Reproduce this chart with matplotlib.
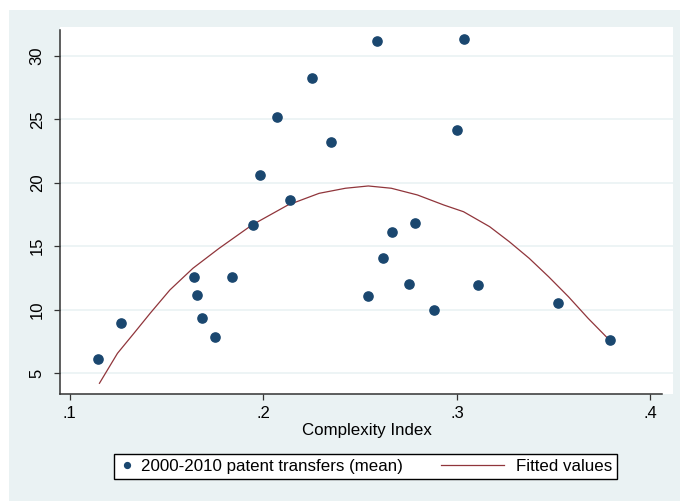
import numpy as np
import matplotlib.pyplot as plt
from matplotlib.patches import Rectangle
from matplotlib.lines import Line2D
from matplotlib.legend_handler import HandlerLine2D
from matplotlib.ticker import FuncFormatter

plt.rcParams['font.family'] = ['Liberation Sans', 'DejaVu Sans']

# points
complexity = [0.1147, 0.1264, 0.1640, 0.1656, 0.1681, 0.1752, 0.1839, 0.1946,
              0.1981, 0.2068, 0.2139, 0.2251, 0.2347, 0.2586, 0.3034, 0.2998,
              0.2662, 0.2784, 0.2617, 0.2540, 0.2754, 0.2881, 0.3110, 0.3522,
              0.3791]
transfers = [6.10, 8.94, 12.57, 11.15, 9.34, 7.84, 12.57, 16.67,
             20.62, 25.19, 18.64, 28.26, 23.22, 31.18, 31.34, 24.16,
             16.12, 16.83, 14.07, 11.07, 12.02, 9.97, 11.94, 10.52,
             7.60]

# courbe ajustee (fitted values), lue point par point
fit_x = [0.1153, 0.1246, 0.1331, 0.1415, 0.1517, 0.1636, 0.1771, 0.1941,
         0.2127, 0.2288, 0.2424, 0.2542, 0.2661, 0.2796, 0.2932, 0.3034,
         0.3169, 0.3271, 0.3373, 0.3474, 0.3576, 0.3678, 0.3779, 0.3791]
fit_y = [4.19, 6.55, 8.13, 9.71, 11.55, 13.26, 14.83, 16.67,
         18.25, 19.17, 19.57, 19.75, 19.57, 19.04, 18.25, 17.72,
         16.54, 15.35, 14.05, 12.59, 11.02, 9.31, 7.74, 7.62]

xticks = [0.1, 0.2, 0.3, 0.4]
yticks = [5, 10, 15, 20, 25, 30]

bg = '#eaf2f3'
navy = '#1a476f'
maroon = '#90353b'


class LongLine(HandlerLine2D):
    # ligne de legende plus longue que la case du marqueur
    def get_xdata(self, legend, xdescent, ydescent, width, height, fontsize):
        xd = np.array([-xdescent - 38.0, width - xdescent - 5.0])
        return xd, xd


fig = plt.figure(figsize=(6.8, 5.01), dpi=100)
fig.patches.append(Rectangle((9 / 680, 0), 1 - 9 / 680, 1 - 10 / 501,
                             transform=fig.transFigure, facecolor=bg,
                             edgecolor='none', zorder=-10))

ax = fig.add_axes([60 / 680, 1 - 394 / 501, 613 / 680, 367 / 501])
ax.set_facecolor('white')
ax.set_xlim(0.1 - 10 / 1967, 0.1 + 613 / 1967)
ax.set_ylim(5 - 21 / 12.68, 5 + (373 - 27) / 12.68)

ax.scatter(complexity, transfers, s=44, color=navy, zorder=3)
ax.plot(fit_x, fit_y, color=maroon, lw=0.9, zorder=2)

ax.set_xticks(xticks)
ax.set_yticks(yticks)
ax.xaxis.set_major_formatter(FuncFormatter(lambda v, p: ('%.1f' % v).lstrip('0')))
ax.tick_params(axis='both', direction='out', length=4, width=0.9,
               color='#333333', labelsize=12)
ax.tick_params(axis='y', pad=7)
ax.tick_params(axis='x', pad=5)
plt.setp(ax.get_yticklabels(), rotation=90, va='center')
ax.yaxis.grid(True, color=bg, lw=1.2)
ax.set_axisbelow(True)

for s in ['top', 'right']:
    ax.spines[s].set_visible(False)
for s in ['left', 'bottom']:
    ax.spines[s].set_color('#333333')
    ax.spines[s].set_linewidth(1.1)
ax.spines['left'].set_bounds(5 - 21 / 12.68, 32.05)
ax.spines['bottom'].set_bounds(0.1 - 10 / 1967, 0.1 + 602 / 1967)

ax.set_xlabel('Complexity Index', fontsize=12.2, labelpad=1)

h_pts = Line2D([], [], ls='none', marker='o', markersize=4.2, color=navy)
h_fit = Line2D([], [], color=maroon, lw=0.9)
leg = fig.legend([h_pts, h_fit],
                 ['2000-2010 patent transfers (mean)', 'Fitted values'],
                 handler_map={h_fit: LongLine()},
                 loc='center', bbox_to_anchor=(365.5 / 680, 1 - 466.5 / 501),
                 ncol=2, fontsize=12.2, frameon=True, fancybox=False,
                 edgecolor='black', facecolor='white', framealpha=1,
                 handlelength=1.0, columnspacing=5.4, handletextpad=0.3,
                 borderpad=0.3)
leg.get_frame().set_linewidth(1.0)

fig.savefig('out.png', dpi=100)
